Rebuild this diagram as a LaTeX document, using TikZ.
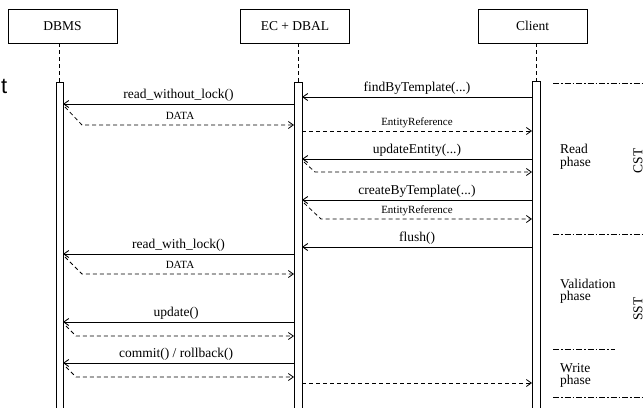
\documentclass[tikz,border=0pt]{standalone}
\usepackage{fontspec}
\setmainfont{Liberation Serif}
\newfontfamily\sansf{Liberation Sans}
\usetikzlibrary{arrows.meta}
\begin{document}
\begin{tikzpicture}[x=1pt,y=-1pt,
  lbl/.style={font=\fontsize{13.5}{14}\selectfont, anchor=base, inner sep=0},
  slbl/.style={font=\fontsize{11}{12}\selectfont, anchor=base, inner sep=0},
  hdr/.style={draw, line width=0.8pt, minimum width=109pt, minimum height=34pt, font=\fontsize{13.5}{14}\selectfont, inner sep=0},
  bar/.style={draw, line width=1pt, fill=white},
  life/.style={dash pattern=on 4pt off 3pt, line width=0.8pt},
  msg/.style={line width=0.9pt, -{Straight Barb[length=5pt,width=7pt]}},
  ret/.style={line width=0.8pt, dash pattern=on 4pt off 3pt, -{Straight Barb[length=5pt,width=7pt]}},
  phaseln/.style={line width=0.8pt, dash pattern=on 6pt off 2pt on 1.5pt off 2pt},
  ptxt/.style={font=\fontsize{13.5}{12.5}\selectfont, align=left, anchor=base west, inner sep=0}
]
\useasboundingbox (0,0) rectangle (644,407);
\clip (0,0) rectangle (644,407);

% stray glyph
\node[font=\sansf\fontsize{22}{24}\selectfont, anchor=base east, inner sep=0] (stray) at (7.5,93) {t};

% headers
\node[hdr] (dbms) at (62.5,26) {DBMS};
\node[hdr] (ec) at (295,26) {EC + DBAL};
\node[hdr] (cl) at (532.5,26) {Client};

% lifelines
\coordinate (dlt) at (59.5,82);
\coordinate (elt) at (298,82);
\coordinate (clt) at (536,81);
\draw[life] (dbms.south -| dlt) -- (dlt);
\draw[life] (ec.south -| elt) -- (elt);
\draw[life] (cl.south -| clt) -- (clt);

% activation bars
\draw[bar] (56,82) rectangle (63,415);
\draw[bar] (294,82) rectangle (302,415);
\draw[bar] (532,81) rectangle (540,415);

% findByTemplate
\coordinate (a1) at (532,97); \coordinate (b1) at (302,97);
\draw[msg] (a1) -- (b1);
\node[lbl] (l1) at (417,91.5) {findByTemplate(...)};

% read_without_lock
\coordinate (a2) at (294,104); \coordinate (b2) at (63,104);
\draw[msg] (a2) -- (b2);
\node[lbl] (l2) at (178.5,98.5) {read\_without\_lock()};

% DATA
\coordinate (a3) at (65,107); \coordinate (k3) at (82,125); \coordinate (b3) at (294,125);
\draw[ret] (a3) -- (k3) -- (b3);
\node[slbl] (l3) at (180,119) {DATA};

% EntityReference
\coordinate (a4) at (302,131); \coordinate (b4) at (532,131);
\draw[ret] (a4) -- (b4);
\node[slbl] (l4) at (417,125) {EntityReference};

% updateEntity
\coordinate (a5) at (532,159); \coordinate (b5) at (302,159);
\draw[msg] (a5) -- (b5);
\node[lbl] (l5) at (417,153) {updateEntity(...)};
\coordinate (a6) at (304,162); \coordinate (k6) at (315,172); \coordinate (b6) at (532,172);
\draw[ret] (a6) -- (k6) -- (b6);

% createByTemplate
\coordinate (a7) at (532,200); \coordinate (b7) at (302,200);
\draw[msg] (a7) -- (b7);
\node[lbl] (l7) at (417,194) {createByTemplate(...)};
\coordinate (a8) at (304,203); \coordinate (k8) at (321,219); \coordinate (b8) at (532,219);
\draw[ret] (a8) -- (k8) -- (b8);
\node[slbl] (l8) at (417,213) {EntityReference};

% flush
\coordinate (a9) at (532,247); \coordinate (b9) at (302,247);
\draw[msg] (a9) -- (b9);
\node[lbl] (l9) at (417,241.5) {flush()};

% read_with_lock
\coordinate (a10) at (294,254); \coordinate (b10) at (63,254);
\draw[msg] (a10) -- (b10);
\node[lbl] (l10) at (178.5,248.5) {read\_with\_lock()};
\coordinate (a11) at (65,257); \coordinate (k11) at (82,274); \coordinate (b11) at (294,274);
\draw[ret] (a11) -- (k11) -- (b11);
\node[slbl] (l11) at (180,268) {DATA};

% update
\coordinate (a12) at (294,322); \coordinate (b12) at (63,322);
\draw[msg] (a12) -- (b12);
\node[lbl] (l12) at (176,316.5) {update()};
\coordinate (a13) at (66,326); \coordinate (k13) at (76,336); \coordinate (b13) at (294,336);
\draw[ret] (a13) -- (k13) -- (b13);

% commit / rollback
\coordinate (a14) at (294,363); \coordinate (b14) at (63,363);
\draw[msg] (a14) -- (b14);
\node[lbl] (l14) at (176,357.5) {commit() / rollback()};
\coordinate (a15) at (66,367); \coordinate (k15) at (76,377); \coordinate (b15) at (294,377);
\draw[ret] (a15) -- (k15) -- (b15);

% final return to client
\coordinate (a16) at (302,383); \coordinate (b16) at (532,383);
\draw[ret] (a16) -- (b16);

% phase separators
\coordinate (p1a) at (553,83); \coordinate (p1b) at (650,83);
\coordinate (p2a) at (553,234); \coordinate (p2b) at (650,234);
\coordinate (p3a) at (553,349); \coordinate (p3b) at (615,349);
\coordinate (p4a) at (553,397); \coordinate (p4b) at (650,397);
\draw[phaseln] (p1a) -- (p1b);
\draw[phaseln] (p2a) -- (p2b);
\draw[phaseln] (p3a) -- (p3b);
\draw[phaseln] (p4a) -- (p4b);

% phase texts
\node[ptxt] (rp) at (560,166) {Read\\phase};
\node[ptxt] (vp) at (560,300.5) {Validation\\phase};
\node[ptxt] (wp) at (560,384.5) {Write\\phase};
\node[font=\fontsize{13.5}{14}\selectfont, rotate=90, inner sep=0] (cst) at (638,161) {CST};
\node[font=\fontsize{13.5}{14}\selectfont, rotate=90, inner sep=0] (sst) at (638,309) {SST};
\end{tikzpicture}
\end{document}
